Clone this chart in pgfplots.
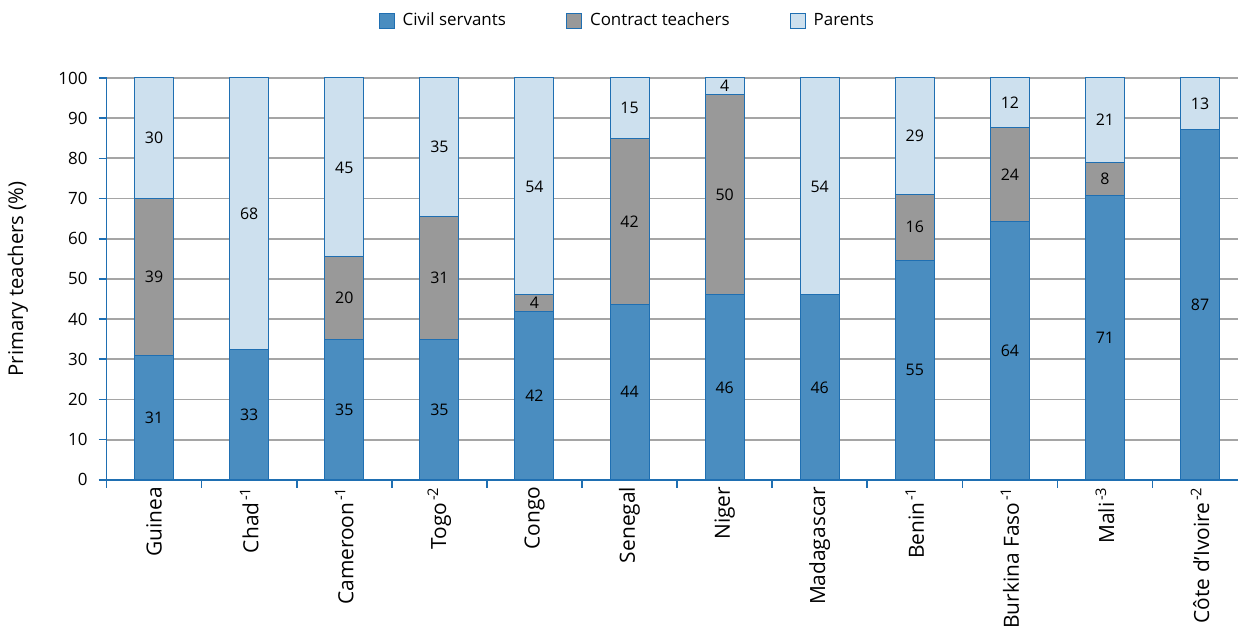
\documentclass[border=0pt]{standalone}
\usepackage{pgfplots}
\pgfplotsset{compat=1.18}
\usepackage{pgfplotstable}
\usepackage{fontspec}
\setmainfont{Open Sans}
\definecolor{civ}{RGB}{74,141,192}
\definecolor{con}{RGB}{153,153,153}
\definecolor{par}{RGB}{205,224,238}
\definecolor{edge}{RGB}{31,111,178}
\definecolor{gridc}{RGB}{165,165,165}
\pgfplotstableread{
x civ con par lciv lcon lpar
0 31 39 30 31 39 30
1 32.5 0 67.5 33 {} 68
2 35 20.5 44.5 35 20 45
3 35 30.5 34.5 35 31 35
4 42 4 54 42 4 54
5 43.6 41.4 15 44 42 15
6 46 50 4 46 50 4
7 46 0 54 46 {} 54
8 54.7 16.3 29 55 16 29
9 64.2 23.5 12.3 64 24 12
10 70.7 8.3 21 71 8 21
11 87.3 0 12.7 87 {} 13
}\data
\pgfplotsset{
  /pgf/number format/assume math mode=true,
  lbl/.style={
    point meta=explicit symbolic,
    nodes near coords={\pgfplotspointmeta},
    every node near coord/.append style={anchor=center, font=\fontsize{8}{9}\selectfont, text=black},
  }
}
\newcommand{\sps}[1]{\kern0.8bp\textsuperscript{#1}}
\begin{document}
\begin{tikzpicture}
\begin{axis}[
  scale only axis, width=566bp, height=201bp,
  ybar stacked, bar width=19.5bp,
  xmin=-0.5, xmax=11.4, ymin=0, ymax=100,
  axis x line*=bottom, axis y line*=left,
  axis line style={edge, line width=0.8pt},
  tick align=outside, major tick length=4bp,
  tick style={edge, line width=0.8pt},
  ytick={0,10,...,100},
  ymajorgrids, grid style={gridc, line width=0.9pt},
  xtick={-0.5,0.5,...,10.5}, xticklabels={},
  extra x ticks={0,...,11},
  extra x tick labels={Guinea, Chad\sps{-1}, Cameroon\sps{-1}, Togo\sps{-2}, Congo, Senegal, Niger, Madagascar, Benin\sps{-1}, Burkina Faso\sps{-1}, Mali\sps{-3}, Côte d’Ivoire\sps{-2}},
  extra x tick style={major tick length=0pt, grid=none,
     tick label style={rotate=90, anchor=east, font=\fontsize{10.5}{12}\selectfont}},
  y tick label style={font=\fontsize{8.5}{10}\selectfont, xshift=-2bp},
  ylabel={Primary teachers (\%)},
  every axis y label/.style={at={(axis description cs:-0.0783,0.5)}, rotate=90, anchor=center, font=\fontsize{10.2}{12}\selectfont},
  legend columns=3,
  legend style={at={(axis description cs:0.461,1)}, anchor=center, yshift=28.5bp, draw=none, fill=none,
     font=\fontsize{8.5}{10}\selectfont,
     /tikz/every odd column/.append style={column sep=2bp},
     /tikz/every even column/.append style={column sep=28bp}},
  legend image code/.code={\draw[#1, line width=0.6pt] (0bp,-3.75bp) rectangle (7.5bp,3.75bp);},
]
\addplot[fill=civ, draw=edge, line width=0.5pt, lbl] table[x=x, y=civ, meta=lciv]{\data};
\addlegendentry{Civil servants}
\addplot[fill=con, draw=edge, line width=0.5pt, lbl] table[x=x, y=con, meta=lcon]{\data};
\addlegendentry{Contract teachers}
\addplot[fill=par, draw=edge, line width=0.5pt, lbl] table[x=x, y=par, meta=lpar]{\data};
\addlegendentry{Parents}
\end{axis}
\path (current axis.north west) ++(0,39bp);
\path (current axis.south west) ++(-53.3bp,0);
\end{tikzpicture}
\end{document}
